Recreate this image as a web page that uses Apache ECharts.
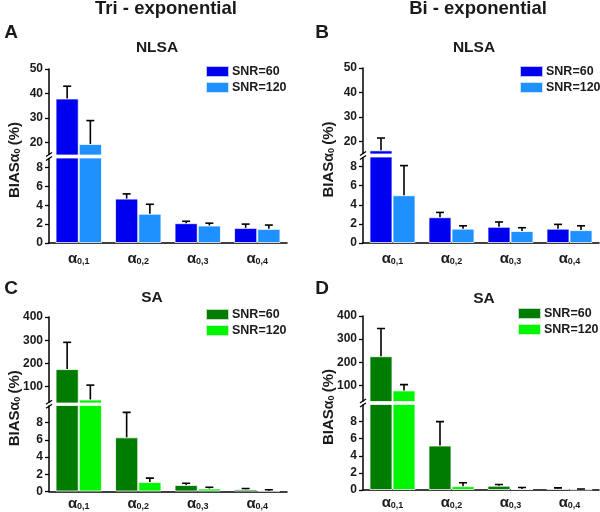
<!DOCTYPE html>
<html><head><meta charset="utf-8">
<script src="https://cdn.jsdelivr.net/npm/echarts@6/dist/echarts.min.js"></script>
<style>html,body{margin:0;padding:0;background:#fff}#c{width:600px;height:512px}</style>
</head><body><div id="c"></div><script>
// ---------- data ----------
const categories = ['α0,1', 'α0,2', 'α0,3', 'α0,4'];
const snrNames = ['SNR=60', 'SNR=120'];
const columnTitles = ['Tri - exponential', 'Bi - exponential'];
const panelLetters = ['A', 'B', 'C', 'D'];
const methodTitles = ['NLSA', 'NLSA', 'SA', 'SA'];

const triNlsaSnr60 = [38, 4.7, 2.1, 1.6];
const triNlsaSnr60Err = [5, 0.5, 0.2, 0.4];
const triNlsaSnr120 = [19.5, 3.1, 1.85, 1.5];
const triNlsaSnr120Err = [9.5, 1.0, 0.25, 0.4];

const biNlsaSnr60 = [16.5, 2.7, 1.7, 1.5];
const biNlsaSnr60Err = [5, 0.5, 0.5, 0.45];
const biNlsaSnr120 = [5.0, 1.5, 1.25, 1.35];
const biNlsaSnr120Err = [3.1, 0.3, 0.35, 0.45];

const triSaSnr60 = [176, 6.3, 0.76, 0.25];
const triSaSnr60Err = [115, 2.9, 0.2, 0.1];
const triSaSnr120 = [45, 1.1, 0.35, 0.1];
const triSaSnr120Err = [62, 0.45, 0.15, 0.1];

const biSaSnr60 = [226, 5.2, 0.5, 0.18];
const biSaSnr60Err = [120, 2.8, 0.15, 0.07];
const biSaSnr120 = [78, 0.45, 0.12, 0.07];
const biSaSnr120Err = [25, 0.4, 0.18, 0.05];

const nlsaUpperTicks = [20, 30, 40, 50];
const saUpperTicks = [100, 200, 300, 400];
const lowerTicks = [0, 2, 4, 6, 8];
const nlsaUpperRange = [15, 50];
const nlsaLowerRange = [0, 9];
const saUpperRange = [30, 400];
const saLowerRange = [0, 10];

// ---------- styling / layout ----------
const FONT = '"Liberation Sans", Arial, sans-serif';
const TXT = '#1a1a1a';
const blueColors = ['#0000F0', '#1E90FF'];
const greenColors = ['#007D00', '#00F500'];
const CAT_GAP = 0.22;

const panels = [
  { vals: [triNlsaSnr60, triNlsaSnr120], errs: [triNlsaSnr60Err, triNlsaSnr120Err], up: nlsaUpperRange, low: nlsaLowerRange, upTicks: nlsaUpperTicks, colors: blueColors,
    left: 49, width: 238, upTop: 69, upH: 86, lowTop: 158, lowH: 85, legend: [205, 65], labelMargin: 8 },
  { vals: [biNlsaSnr60, biNlsaSnr120], errs: [biNlsaSnr60Err, biNlsaSnr120Err], up: nlsaUpperRange, low: nlsaLowerRange, upTicks: nlsaUpperTicks, colors: blueColors,
    left: 363, width: 236, upTop: 68, upH: 86, lowTop: 157, lowH: 86, legend: [519, 65], labelMargin: 8 },
  { vals: [triSaSnr60, triSaSnr120], errs: [triSaSnr60Err, triSaSnr120Err], up: saUpperRange, low: saLowerRange, upTicks: saUpperTicks, colors: greenColors,
    left: 49, width: 238, upTop: 317, upH: 86, lowTop: 405.5, lowH: 86, legend: [205, 308], labelMargin: 5 },
  { vals: [biSaSnr60, biSaSnr120], errs: [biSaSnr60Err, biSaSnr120Err], up: saUpperRange, low: saLowerRange, upTicks: saUpperTicks, colors: greenColors,
    left: 363, width: 236, upTop: 316, upH: 85.5, lowTop: 404.5, lowH: 85.5, legend: [517, 307], labelMargin: 5 }
];

function errRender(side) {
  return function (params, api) {
    const ci = api.value(0), lo = api.value(1), hi = api.value(2);
    const band = api.size([1, 0])[0];
    const bw = band * (1 - CAT_GAP) / 2;
    const pLo = api.coord([ci, lo]);
    const pHi = api.coord([ci, hi]);
    const x = pLo[0] + (side === 0 ? -0.5 : 0.5) * bw;
    const cap = 4;
    const st = { stroke: '#000', lineWidth: 1.6 };
    return { type: 'group', children: [
      { type: 'line', shape: { x1: x, y1: pLo[1], x2: x, y2: pHi[1] }, style: st },
      { type: 'line', shape: { x1: x - cap, y1: pHi[1], x2: x + cap, y2: pHi[1] }, style: st }
    ]};
  };
}

const grid = [], xAxis = [], yAxis = [], series = [], legend = [];
const axisLineStyle = { color: '#000', width: 1.5 };
const yLabel = { color: TXT, fontSize: 12, fontWeight: 'bold', fontFamily: FONT, margin: 6 };

panels.forEach((p, pi) => {
  grid.push({ left: p.left, width: p.width, top: p.upTop, height: p.upH });
  grid.push({ left: p.left, width: p.width, top: p.lowTop, height: p.lowH });
  xAxis.push({ type: 'category', gridIndex: 2 * pi, data: categories, show: false });
  xAxis.push({ type: 'category', gridIndex: 2 * pi + 1, data: categories,
    axisLine: { lineStyle: axisLineStyle },
    axisTick: { length: 4, lineStyle: { color: '#000', width: 1.3 } },
    axisLabel: { margin: p.labelMargin, interval: 0,
      formatter: v => '{a|' + v.charAt(0) + '}{s|' + v.slice(1) + '}',
      rich: {
        a: { fontSize: 15, fontWeight: 'bold', fontFamily: FONT, color: TXT },
        s: { fontSize: 9, fontWeight: 'bold', fontFamily: FONT, color: TXT, padding: [6, 0, 0, 0] }
      } } });
  yAxis.push({ type: 'value', gridIndex: 2 * pi, min: p.up[0], max: p.up[1],
    splitLine: { show: false },
    axisLine: { show: true, lineStyle: axisLineStyle },
    axisTick: { show: true, length: 4, lineStyle: { color: '#000', width: 1.3 }, customValues: p.upTicks },
    axisLabel: Object.assign({ customValues: p.upTicks }, yLabel) });
  yAxis.push({ type: 'value', gridIndex: 2 * pi + 1, min: p.low[0], max: p.low[1],
    splitLine: { show: false },
    axisLine: { show: true, lineStyle: axisLineStyle },
    axisTick: { show: true, length: 4, lineStyle: { color: '#000', width: 1.3 }, customValues: lowerTicks },
    axisLabel: Object.assign({ customValues: lowerTicks }, yLabel) });

  const names = snrNames.map(n => panelLetters[pi] + '|' + n);
  p.vals.forEach((vals, si) => {
    const errs = p.errs[si];
    const itemStyle = { color: p.colors[si], borderColor: 'rgba(255,255,255,0.75)', borderWidth: 1 };
    series.push({ type: 'bar', name: names[si], xAxisIndex: 2 * pi, yAxisIndex: 2 * pi,
      data: vals.map(v => v > p.up[0] ? v : '-'), barGap: '0%', barCategoryGap: (CAT_GAP * 100) + '%',
      itemStyle, clip: true, z: 2 });
    series.push({ type: 'bar', name: names[si], xAxisIndex: 2 * pi + 1, yAxisIndex: 2 * pi + 1,
      data: vals.slice(), barGap: '0%', barCategoryGap: (CAT_GAP * 100) + '%',
      itemStyle, clip: true, z: 2 });
    const errData = vals.map((v, i) => [i, v, v + errs[i]]);
    series.push({ type: 'custom', xAxisIndex: 2 * pi, yAxisIndex: 2 * pi, clip: true, z: 3,
      renderItem: errRender(si), encode: { x: 0, y: [1, 2] },
      data: errData.filter(d => d[2] > p.up[0]) });
    series.push({ type: 'custom', xAxisIndex: 2 * pi + 1, yAxisIndex: 2 * pi + 1, clip: true, z: 3,
      renderItem: errRender(si), encode: { x: 0, y: [1, 2] },
      data: errData.filter(d => d[1] < p.low[1]) });
  });
  legend.push({ data: names, orient: 'vertical', left: p.legend[0], top: p.legend[1],
    itemWidth: 23, itemHeight: 11, itemGap: 3, icon: 'rect', padding: 0,
    formatter: n => n.split('|')[1],
    textStyle: { fontSize: 12.5, fontWeight: 'bold', fontFamily: FONT, color: TXT, lineHeight: 12, padding: [0, 0, 0, -2] } });
});
panels.forEach((p, pi) => {
  xAxis.push({ type: 'category', gridIndex: 2 * pi + 1, data: categories, position: 'bottom',
    axisLine: { show: false }, axisLabel: { show: false },
    axisTick: { alignWithLabel: true, length: 4, lineStyle: { color: '#000', width: 1.3 } } });
});

const chart = echarts.init(document.getElementById('c'), null, { renderer: 'canvas' });
chart.setOption({ animation: false, backgroundColor: '#fff', grid, xAxis, yAxis, series, legend });

// ---------- decorations positioned from the laid-out grids ----------
const graphic = [];
function txt(text, x, y, size, extra) {
  return Object.assign({ type: 'text', x, y, style: { text, fill: TXT, font: 'bold ' + size + 'px ' + FONT, align: 'center', verticalAlign: 'middle' } }, extra || {});
}
graphic.push(txt(columnTitles[0], 166, 9, 18.5));
graphic.push(txt(columnTitles[1], 478, 9, 18.5));
const letterPos = [[11, 33], [322, 33], [11, 289], [322, 289]];
const methodPos = [[157, 48], [474, 48], [152, 298], [484, 299]];
panels.forEach((p, pi) => {
  graphic.push(txt(panelLetters[pi], letterPos[pi][0], letterPos[pi][1], 19));
  graphic.push(txt(methodTitles[pi], methodPos[pi][0], methodPos[pi][1], 15.5));
  const up = chart.getModel().getComponent('grid', 2 * pi).coordinateSystem.getRect();
  const lo = chart.getModel().getComponent('grid', 2 * pi + 1).coordinateSystem.getRect();
  const ax = up.x;
  const gy = (up.y + up.height + lo.y) / 2;
  graphic.push({ type: 'rect', shape: { x: ax - 1.5, y: up.y + up.height, width: 3, height: lo.y - up.y - up.height }, style: { fill: '#fff' }, z: 100 });
  [-2, 2].forEach(d => {
    graphic.push({ type: 'line', shape: { x1: ax - 3, y1: gy + d + 2, x2: ax + 3, y2: gy + d - 2 }, style: { stroke: '#000', lineWidth: 1.3 }, z: 101 });
  });
  const cy = (up.y + lo.y + lo.height) / 2 + 4;
  graphic.push({ type: 'text', x: ax - 34, y: cy, rotation: Math.PI / 2, z: 100,
    style: { text: '{b|BIAS}{a|α}{s|0} {b|(%)}', align: 'center', verticalAlign: 'middle',
      rich: {
        b: { fontSize: 15, fontWeight: 'bold', fontFamily: FONT, fill: TXT },
        a: { fontSize: 14, fontWeight: 'bold', fontFamily: FONT, fill: TXT },
        s: { fontSize: 9, fontWeight: 'bold', fontFamily: FONT, fill: TXT, padding: [6, 0, 0, 0] }
      } } });
});
chart.setOption({ graphic });
</script></body></html>
